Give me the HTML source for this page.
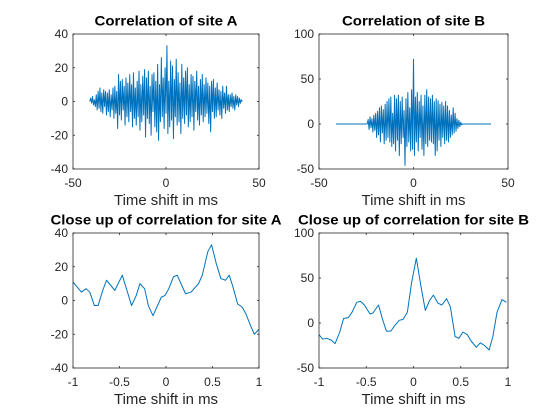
<!DOCTYPE html>
<html><head><meta charset="utf-8"><style>
html,body{margin:0;padding:0;background:#fff;}
svg{display:block;font-family:"Liberation Sans",Arial,sans-serif;}
</style></head><body>
<svg id="fig" width="560" height="420" viewBox="0 0 560 420"></svg>
<script>
// ---- data ----
const aStart = -41, aStep = 0.5;
const aValues = [0,2,-1,3,-2,1,-3,4,-5,6,
-4,8,-6,5,-7,7,-3,6,-8,5,
-6,7,-9,4,-5,8,-10,9,-7,6,
-16,16,-8,12,-11,13,-5,9,-14,14,
-9,11,-12,16,-6,10,-15,17,-10,8,
-14,12,-9,18,-17,10,-12,15,-8,19,
-21,14,-10,18,-13,9,-20,16,-6,17,
-15,12,-18,22,-23,10,-12,26,-9,14,
-16,20,-7,33,-19,12,-15,24,-11,21,
-22,13,-9,25,-14,17,-12,11,-19,22,
-10,14,-13,18,-8,20,-15,10,-12,16,
-9,15,-17,12,-6,18,-11,9,-14,13,
-8,16,-12,10,-9,14,-7,11,-13,9,
-18,12,-6,13,-10,8,-9,11,-5,7,
-8,6,-10,9,-4,5,-7,9,-5,4,
-6,4,-3,5,-4,3,-5,4,-2,3,
-3,2,-1,1,0];
const bStart = -41, bStep = 0.5;
const bValues = [0,0,0,0,0,0,0,0,0,0,0,0,0,0,0,0,0,0,0,0,0,0,0,0,0,0,0,0,0,0,0,0,0,0,
5,-6,8,-4,6,-9,10,-7,12,-15,
14,-12,18,-20,20,-10,16,-22,22,-18,
25,-15,28,-20,30,-25,12,-22,32,-30,
28,-18,32,-35,25,-22,30,-15,15,-46,
28,-25,35,-20,18,-30,38,-28,72,-35,
30,-20,35,-30,25,-15,32,-28,20,-35,
32,-22,38,-25,30,-18,28,-20,32,-22,
25,-35,28,-30,26,-18,22,-25,24,-15,
20,-22,25,-18,20,-20,15,-15,10,-12,
18,-10,12,-8,6,-5,4,-3,2,-1,
0,0,0,0,0,0,0,0,0,0,0,0,0,0,0,0,0,0,0,0,0,0,0,0,0,0,0,0,0,0,0];
const cX = [-1,-0.91,-0.86,-0.82,-0.77,-0.73,-0.68,-0.64,-0.55,-0.47,-0.37,-0.32,-0.28,-0.23,-0.19,-0.14,-0.05,-0.01,0.03,0.08,0.12,0.21,0.27,0.35,0.39,0.45,0.49,0.54,0.59,0.64,0.68,0.72,0.77,0.82,0.86,0.91,0.95,1];
const cY = [11,5,7,5,-3,-3,6,12,6,15,-3,3,10,7,-3,-9,2,3,7,14,15,4,5,10,15,29,33,22,13,12,15,8,-2,-4,-8,-15,-20,-17];
const dX = [-1,-0.96,-0.92,-0.87,-0.83,-0.78,-0.74,-0.69,-0.65,-0.6,-0.56,-0.52,-0.46,-0.43,-0.37,-0.33,-0.287,-0.24,-0.2,-0.15,-0.11,-0.065,-0.02,0.03,0.08,0.125,0.17,0.21,0.26,0.3,0.35,0.39,0.44,0.48,0.524,0.57,0.61,0.665,0.707,0.753,0.8,0.84,0.884,0.937,0.982];
const dY = [-13,-18,-17,-19,-23,-10,5,6,12,23,24,20,10,11,20,5,-9,-9,-3,3,4,12,45,72,40,14,25,31,22,20,27,18,-15,-17,-10,-13,-20,-27,-22,-25,-30,-15,12,26,23];
const xTicksTop = [-50,0,50];
const yTicksA = [-40,-20,0,20,40];
const yTicksB = [-50,0,50,100];
const xTicksBot = [-1,-0.5,0,0.5,1];

const NS = "http://www.w3.org/2000/svg";
const svg = document.getElementById('fig');
function mk(tag, attrs, parent){const e=document.createElementNS(NS,tag);for(const k in attrs)e.setAttribute(k,attrs[k]);(parent||svg).appendChild(e);return e;}

function panel(o){
  const g = mk('g',{});
  
  
  const sx = v => o.x0 + (v - o.xmin)/(o.xmax - o.xmin)*(o.x1 - o.x0);
  const sy = v => o.y1 - (v - o.ymin)/(o.ymax - o.ymin)*(o.y1 - o.y0);
  let d = '';
  for (let i=0;i<o.ys.length;i++){ d += (i?'L':'M') + sx(o.xs[i]).toFixed(2) + ' ' + sy(o.ys[i]).toFixed(2); }
  const line = mk('path',{d:d,fill:'none',stroke:'#0072BD','stroke-width':'1','stroke-linejoin':'round'},g);
  
  
  const box = mk('rect',{x:o.x0,y:o.y0,width:o.x1-o.x0,height:o.y1-o.y0,fill:'none',stroke:'#262626','stroke-width':'0.8'},g);
  
  
  o.xt.forEach(t=>{
    const x = sx(t);
    mk('line',{x1:x,x2:x,y1:o.y1,y2:o.y1-2,stroke:'#262626','stroke-width':'0.8'},g);
    mk('line',{x1:x,x2:x,y1:o.y0,y2:o.y0+2,stroke:'#262626','stroke-width':'0.8'},g);
    const tx = mk('text',{x:x,y:o.y1+18,'text-anchor':'middle','font-size':'12',fill:'#262626'},g);
    tx.textContent = String(t);
    
    
  });
  o.yt.forEach(t=>{
    const y = sy(t);
    mk('line',{x1:o.x0,x2:o.x0+2,y1:y,y2:y,stroke:'#262626','stroke-width':'0.8'},g);
    mk('line',{x1:o.x1,x2:o.x1-2,y1:y,y2:y,stroke:'#262626','stroke-width':'0.8'},g);
    const ty = mk('text',{x:o.x0-5,y:y+4,'text-anchor':'end','font-size':'12',fill:'#262626'},g);
    ty.textContent = String(t);
    
    
  });
  const ti = mk('text',{x:(o.x0+o.x1)/2,y:o.y0-8.5,'text-anchor':'middle','font-size':'14','font-weight':'bold',fill:'#000',textLength:o.tl,lengthAdjust:'spacingAndGlyphs'},g);
  ti.textContent = o.title;
  
  
  const xl = mk('text',{x:(o.x0+o.x1)/2,y:o.y1+36,'text-anchor':'middle','font-size':'15',fill:'#262626',textLength:'104',lengthAdjust:'spacingAndGlyphs'},g);
  xl.textContent = 'Time shift in ms';
  
  
}
const aX = aValues.map((_,i)=>aStart+i*aStep);
const bX = bValues.map((_,i)=>bStart+i*bStep);
panel({name:'panel-site-a',x0:73,x1:259,y0:34,y1:169,xmin:-50,xmax:50,ymin:-40,ymax:40,xs:aX,ys:aValues,xt:xTicksTop,yt:yTicksA,title:'Correlation of site A',tl:143});
panel({name:'panel-site-b',x0:319,x1:508,y0:34,y1:169,xmin:-50,xmax:50,ymin:-50,ymax:100,xs:bX,ys:bValues,xt:xTicksTop,yt:yTicksB,title:'Correlation of site B',tl:143});
panel({name:'panel-closeup-a',x0:73,x1:259,y0:233,y1:368,xmin:-1,xmax:1,ymin:-40,ymax:40,xs:cX,ys:cY,xt:xTicksBot,yt:yTicksA,title:'Close up of correlation for site A',tl:231});
panel({name:'panel-closeup-b',x0:319,x1:508,y0:233,y1:368,xmin:-1,xmax:1,ymin:-50,ymax:100,xs:dX,ys:dY,xt:xTicksBot,yt:yTicksB,title:'Close up of correlation for site B',tl:231});
</script>
</body></html>
